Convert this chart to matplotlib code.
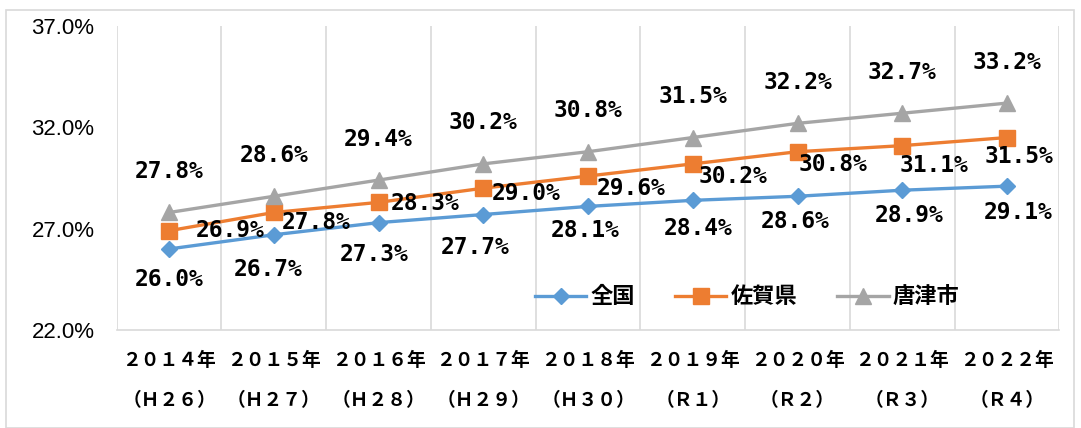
import matplotlib
matplotlib.use("Agg")
from matplotlib import pyplot as plt
from matplotlib.patches import Rectangle
import numpy as np

years = ["２０１４年\n（Ｈ２６）", "２０１５年\n（Ｈ２７）", "２０１６年\n（Ｈ２８）",
         "２０１７年\n（Ｈ２９）", "２０１８年\n（Ｈ３０）", "２０１９年\n（Ｒ１）",
         "２０２０年\n（Ｒ２）", "２０２１年\n（Ｒ３）", "２０２２年\n（Ｒ４）"]
zenkoku = [26.0, 26.7, 27.3, 27.7, 28.1, 28.4, 28.6, 28.9, 29.1]
saga = [26.9, 27.8, 28.3, 29.0, 29.6, 30.2, 30.8, 31.1, 31.5]
karatsu = [27.8, 28.6, 29.4, 30.2, 30.8, 31.5, 32.2, 32.7, 33.2]
yticks = [22.0, 27.0, 32.0, 37.0]

# label offsets in points (hand-placed labels in the original)
zen_off = [(0, -22), (-4, -25), (-3, -23), (-6, -24), (-2, -17), (4, -20), (-2, -18), (5, -18), (8, -19)]
saga_off = [(19, 0), (6, -7), (9, -1), (6, -4), (6, -9), (4, -9), (1, -9), (-2, -14), (-16, -14)]

cjk = ['Noto Sans CJK JP', 'DejaVu Sans']
mono = 'DejaVu Sans Mono'

fig = plt.figure(figsize=(10.81, 4.28), dpi=100)
ax = fig.add_axes([0.108, 0.229, 0.872, 0.710])

x = np.arange(len(years))
ax.plot(x, zenkoku, color='#5B9BD5', lw=2.4, marker='D', ms=8.5, label='全国', zorder=3)
ax.plot(x, saga, color='#ED7D31', lw=2.4, marker='s', ms=12, label='佐賀県', zorder=3)
ax.plot(x, karatsu, color='#A5A5A5', lw=2.4, marker='^', ms=12, label='唐津市', zorder=3)

lbl = dict(textcoords='offset points', va='center', fontsize=16.5,
           fontweight='bold', family=mono)
for xi, v in zip(x, karatsu):
    ax.annotate(f'{v:.1f}%', (xi, v), xytext=(0, 29.5), ha='center', **lbl)
for xi, v, off in zip(x, zenkoku, zen_off):
    ax.annotate(f'{v:.1f}%', (xi, v), xytext=off, ha='center', **lbl)
for xi, v, off in zip(x, saga, saga_off):
    ax.annotate(f'{v:.1f}%', (xi, v), xytext=off, ha='left', **lbl)

ax.set_xlim(-0.5, len(years) - 0.5)
ax.set_ylim(22, 37)
ax.set_yticks(yticks)
ax.set_yticklabels([f'{t:.1f}%' for t in yticks], family='Liberation Sans', fontsize=16)
ax.set_xticks(x)
ax.set_xticklabels(years, family=cjk, fontsize=13.5, fontweight='bold', linespacing=2.4)
ax.tick_params(axis='both', length=0)
ax.tick_params(axis='y', pad=16)
ax.tick_params(axis='x', pad=15)

ax.set_xticks(np.arange(len(years) + 1) - 0.5, minor=True)
ax.xaxis.grid(True, which='minor', color='#D9D9D9', lw=1.2)
ax.tick_params(which='minor', length=0)
for s in ['top', 'right', 'left']:
    ax.spines[s].set_visible(False)
ax.spines['bottom'].set_color('#D9D9D9')
ax.spines['bottom'].set_linewidth(1.2)

ax.legend(loc='center', bbox_to_anchor=(0.669, 0.109), ncol=3, frameon=False,
          prop={'family': cjk, 'size': 16, 'weight': 'bold'},
          handlelength=2.3, columnspacing=1.8, handletextpad=0.2)

fig.patches.append(Rectangle((6 / 1081, 0.0), 1068 / 1081, 418 / 428,
                             transform=fig.transFigure, fill=False,
                             edgecolor='#D9D9D9', lw=1.2))

fig.savefig('out.png', dpi=100)
